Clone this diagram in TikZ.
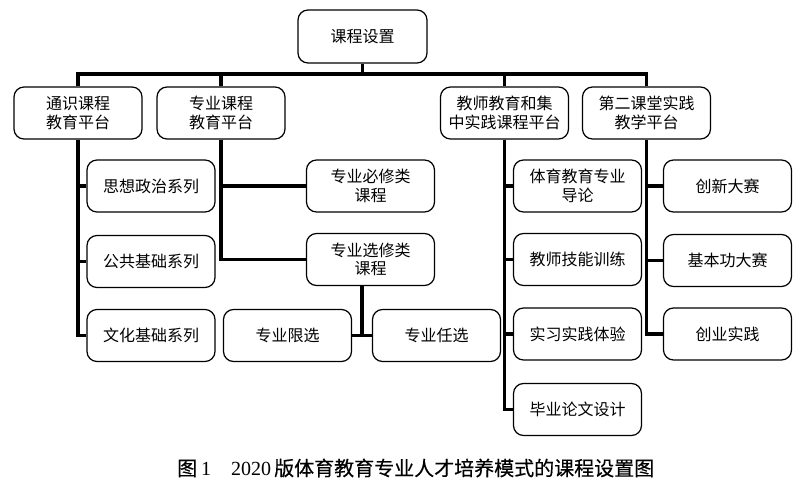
\documentclass[tikz,border=0pt]{standalone}
\usepackage{fontspec}
\setmainfont{Liberation Serif}
\newfontfamily\cjk{Noto Sans CJK SC}
\newfontfamily\cjkcap[FakeBold=0.35]{Noto Sans CJK SC}
\usetikzlibrary{calc}
\tikzset{
  box/.style={draw, line width=1.2pt, rounded corners=10pt, minimum width=128pt, minimum height=52pt, align=center, inner sep=2pt, font=\cjk\fontsize{16}{18.5}\selectfont},
  conn/.style={line width=3.5pt, line join=miter}
}
\begin{document}
\begin{tikzpicture}[x=1pt,y=-1pt]
\useasboundingbox[fill=white] (0,0) rectangle (800,487);
\node[box, minimum width=129pt, minimum height=53pt] (top) at (362.5,36.5) {课程设置};
\node[box] (tsh) at (78,113) {通识课程\\教育平台};
\node[box] (zy) at (221,113) {专业课程\\教育平台};
\node[box] (js) at (504.5,113) {教师教育和集\\中实践课程平台};
\node[box] (de) at (646.5,113) {第二课堂实践\\教学平台};
\node[box] (sz) at (151,186) {思想政治系列};
\node[box] (gg) at (151,261.5) {公共基础系列};
\node[box] (wh) at (151,335.5) {文化基础系列};
\node[box] (bx) at (370.5,186) {专业必修类\\课程};
\node[box] (xx) at (370.5,259.5) {专业选修类\\课程};
\node[box] (xz) at (287.5,335.5) {专业限选};
\node[box] (rx) at (436.5,335.5) {专业任选};
\node[box] (ty) at (577.5,186) {体育教育专业\\导论};
\node[box] (jn) at (577.5,259.5) {教师技能训练};
\node[box] (sx) at (577.5,334) {实习实践体验};
\node[box] (by) at (577.5,409.5) {毕业论文设计};
\node[box] (cx) at (727.5,186) {创新大赛};
\node[box] (jb) at (727.5,260.5) {基本功大赛};
\node[box] (cy) at (727.5,334) {创业实践};
\coordinate (bus) at (0,74);
% top bus
\draw[conn] (top.south) -- (top.south |- bus);
\draw[conn] (tsh.north) -- (tsh.north |- bus) -- (de.north |- bus) -- (de.north);
\draw[conn] (zy.north) -- (zy.north |- bus);
\draw[conn] (js.north) -- (js.north |- bus);
% 通识
\draw[conn] (tsh.south) -- (tsh.south |- wh.west) -- (wh.west);
\draw[conn] (tsh.south |- sz.west) -- (sz.west);
\draw[conn] (tsh.south |- gg.west) -- (gg.west);
% 专业
\draw[conn] (zy.south) -- (zy.south |- xx.west) -- (xx.west);
\draw[conn] (zy.south |- bx.west) -- (bx.west);
\coordinate (xm) at ($(xz.east)!0.5!(rx.west)$);
\draw[conn] (xm |- xx.south) -- (xm);
\draw[conn] (xz.east) -- (rx.west);
% 教师
\draw[conn] (js.south) -- (js.south |- by.west) -- (by.west);
\draw[conn] (js.south |- ty.west) -- (ty.west);
\draw[conn] (js.south |- jn.west) -- (jn.west);
\draw[conn] (js.south |- sx.west) -- (sx.west);
% 第二课堂
\draw[conn] (de.south) -- (de.south |- cy.west) -- (cy.west);
\draw[conn] (de.south |- cx.west) -- (cx.west);
\draw[conn] (de.south |- jb.west) -- (jb.west);
% caption
\node[font=\fontsize{20}{24}\selectfont, anchor=west, inner sep=0pt] (cap) at (177,468) {{\cjkcap 图}\hspace{4pt}1\hspace{20pt}2020\hspace{3pt}{\cjkcap 版体育教育专业人才培养模式的课程设置图}};
\end{tikzpicture}
\end{document}
